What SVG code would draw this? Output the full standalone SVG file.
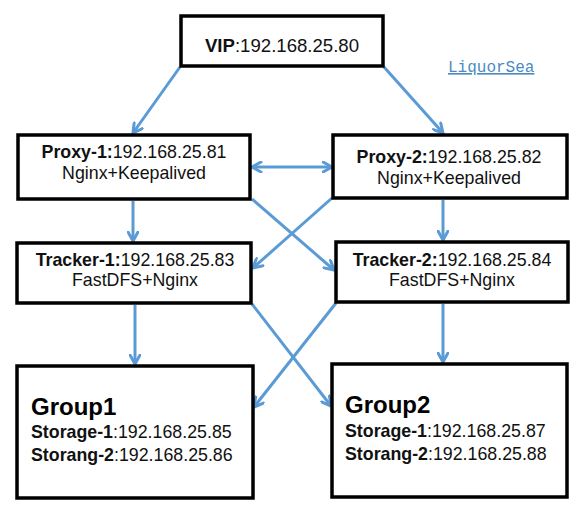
<svg xmlns="http://www.w3.org/2000/svg" width="588" height="514" viewBox="0 0 588 514">
<style>
.box{fill:#fff;stroke:#000;stroke-width:3.5}
.t{font-family:"Liberation Sans",Arial,sans-serif;font-size:17.8px;fill:#111;text-anchor:middle}
.tl{font-family:"Liberation Sans",Arial,sans-serif;font-size:17.8px;fill:#111}
.g{font-family:"Liberation Sans",Arial,sans-serif;font-size:24px;font-weight:bold;fill:#000}
.b{font-weight:bold}
.c{fill:none;stroke:#5b9bd5;stroke-width:3}
.wm{font-family:"Liberation Mono","Courier New",monospace;font-size:16px;fill:#4a8ac2;text-decoration:underline}
</style>
<defs>
<marker id="ah" viewBox="0 0 12 12" refX="10.5" refY="6" markerWidth="12" markerHeight="12" markerUnits="userSpaceOnUse" orient="auto-start-reverse">
<path d="M1.5,1 L10.5,6 L1.5,11" fill="none" stroke="#5b9bd5" stroke-width="3" stroke-linecap="round" stroke-linejoin="round"/>
</marker>
</defs>
<rect width="588" height="514" fill="#fff"/>
<g id="connectors">
<line class="c" x1="180" y1="67" x2="133" y2="133" marker-end="url(#ah)"/>
<line class="c" x1="384" y1="67" x2="443" y2="133" marker-end="url(#ah)"/>
<line class="c" x1="252" y1="167" x2="332" y2="167" marker-start="url(#ah)" marker-end="url(#ah)"/>
<line class="c" x1="133" y1="201" x2="133" y2="241" marker-end="url(#ah)"/>
<line class="c" x1="443" y1="200" x2="443" y2="240" marker-end="url(#ah)"/>
<line class="c" x1="252" y1="199" x2="334" y2="270" marker-end="url(#ah)"/>
<line class="c" x1="332" y1="198" x2="253" y2="268" marker-end="url(#ah)"/>
<line class="c" x1="135" y1="305" x2="135" y2="364" marker-end="url(#ah)"/>
<line class="c" x1="443" y1="304" x2="443" y2="362" marker-end="url(#ah)"/>
<line class="c" x1="252" y1="304" x2="331" y2="406" marker-end="url(#ah)"/>
<line class="c" x1="336" y1="303" x2="254" y2="407" marker-end="url(#ah)"/>
</g>
<g id="vip">
<rect class="box" x="181" y="16" width="202" height="50"/>
<text class="t" x="282" y="52" style="font-size:18.6px"><tspan class="b">VIP</tspan>:192.168.25.80</text>
</g>
<g id="watermark">
<text class="wm" x="448" y="72">LiquorSea</text>
</g>
<g id="proxy1">
<rect class="box" x="18" y="135" width="232" height="64"/>
<text class="t" x="134" y="158"><tspan class="b">Proxy-1:</tspan>192.168.25.81</text>
<text class="t" x="134" y="179">Nginx+Keepalived</text>
</g>
<g id="proxy2">
<rect class="box" x="333" y="135" width="234" height="63"/>
<text class="t" x="449" y="163"><tspan class="b">Proxy-2:</tspan>192.168.25.82</text>
<text class="t" x="449" y="184">Nginx+Keepalived</text>
</g>
<g id="tracker1">
<rect class="box" x="17" y="243" width="234" height="60"/>
<text class="t" x="135" y="266"><tspan class="b">Tracker-1:</tspan>192.168.25.83</text>
<text class="t" x="135" y="286">FastDFS+Nginx</text>
</g>
<g id="tracker2">
<rect class="box" x="336" y="242" width="232" height="60"/>
<text class="t" x="452" y="266"><tspan class="b">Tracker-2:</tspan>192.168.25.84</text>
<text class="t" x="452" y="286">FastDFS+Nginx</text>
</g>
<g id="group1">
<rect class="box" x="17" y="366" width="236" height="132"/>
<text class="g" x="31" y="415">Group1</text>
<text class="tl" x="31" y="438"><tspan class="b">Storage-1</tspan>:192.168.25.85</text>
<text class="tl" x="31" y="461"><tspan class="b">Storang-2</tspan>:192.168.25.86</text>
</g>
<g id="group2">
<rect class="box" x="332" y="364" width="235" height="133"/>
<text class="g" x="345" y="413">Group2</text>
<text class="tl" x="345" y="437"><tspan class="b">Storage-1</tspan>:192.168.25.87</text>
<text class="tl" x="345" y="460"><tspan class="b">Storang-2</tspan>:192.168.25.88</text>
</g>
</svg>
